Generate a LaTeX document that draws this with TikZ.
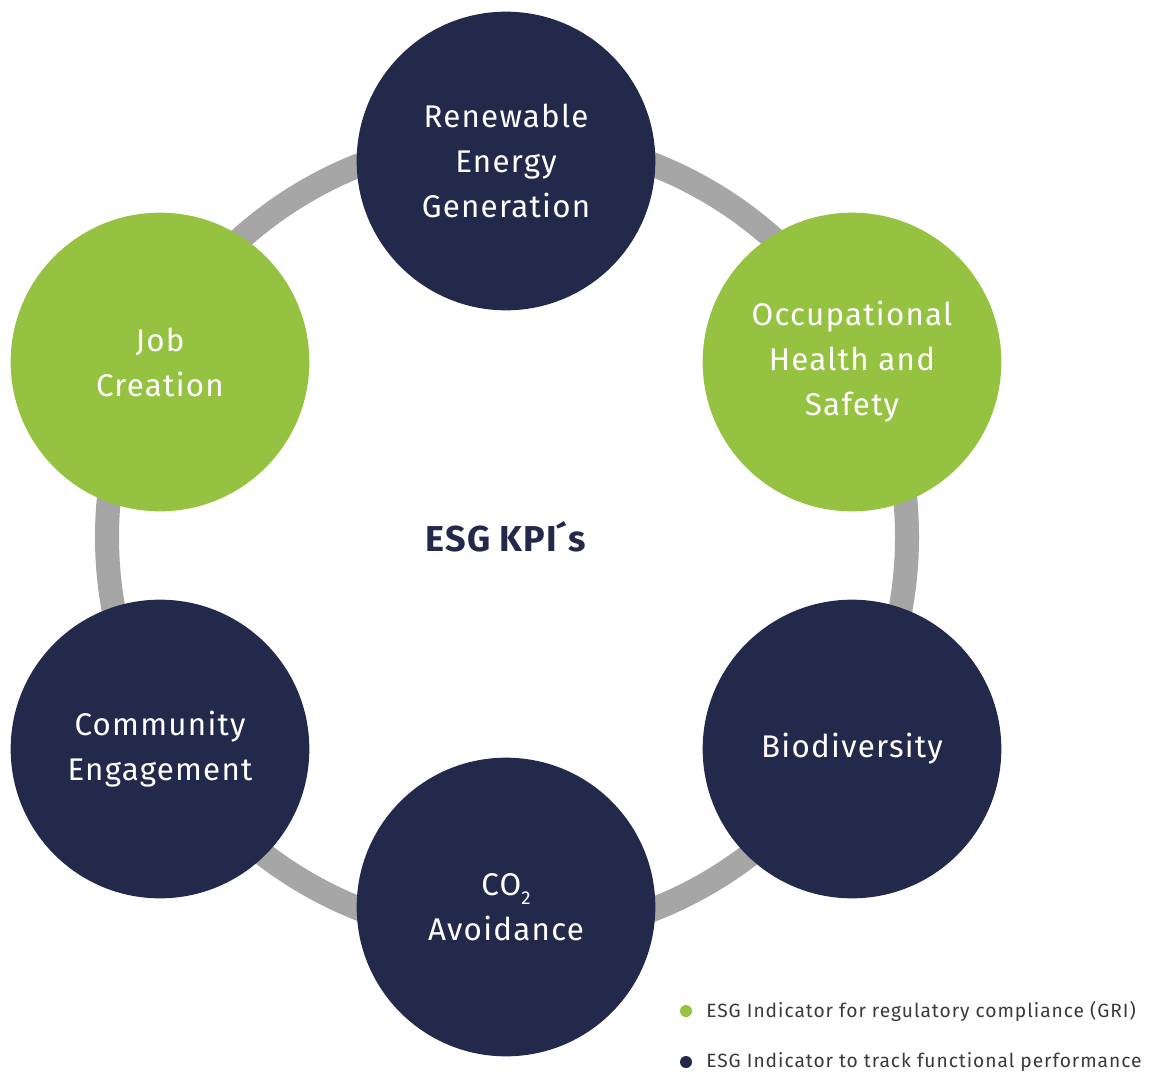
\documentclass[tikz,border=0pt]{standalone}
\usepackage{fontspec}
\setmainfont{Fira Sans}[LetterSpace=4]
\newfontfamily\legendfont{Fira Sans}[LetterSpace=5]
\newfontfamily\titlefont{Fira Sans}[LetterSpace=3]
\definecolor{navy}{HTML}{23294B}
\definecolor{leaf}{HTML}{96C242}
\definecolor{ringgray}{HTML}{A6A6A6}
\definecolor{legendtext}{HTML}{3A3A3A}
\begin{document}
\begin{tikzpicture}[x=0.75pt,y=-0.75pt,
  kpi/.style={circle,minimum size=224pt,inner sep=0pt,text=white,align=center,
    font={\fontsize{23.5}{33.75}\selectfont}},
  navykpi/.style={kpi,fill=navy},
  greenkpi/.style={kpi,fill=leaf},
  dot/.style={circle,minimum size=9pt,inner sep=0pt},
  legendlabel/.style={anchor=west,inner sep=0pt,text=legendtext,
    font={\legendfont\fontsize{14.4}{17}\selectfont}}]
  \useasboundingbox (0,0) rectangle (1162,1074);
  \fill[white] (0,0) rectangle (1162,1074);

  % connecting ring behind the indicators
  \draw[ringgray,line width=18pt] (507,537) circle[radius=300pt];

  % indicators
  \node[navykpi]  (renew) at (506,161) {Renewable\\Energy\\Generation};
  \node[greenkpi] (ohs)   at (852,362) {Occupational\\Health and\\Safety};
  \node[navykpi]  (bio)   at (852,749) {Biodiversity};
  \node[navykpi]  (co2)   at (506,907) {CO\raisebox{-7pt}{\fontsize{14}{14}\selectfont 2}\\Avoidance};
  \node[navykpi]  (comm)  at (160,749) {Community\\Engagement};
  \node[greenkpi] (job)   at (160,362) {Job\\Creation};

  % centre title
  \node[text=navy,font={\titlefont\fontsize{27}{30}\bfseries\selectfont}] (title) at (506,537) {ESG KPI\kern-1.2pt´s};

  % legend
  \node[dot,fill=leaf] (dotg) at (686,1011) {};
  \node[legendlabel] (legg) at (706,1011) {ESG Indicator for regulatory compliance (GRI)};
  \node[dot,fill=navy] (dotn) at (686,1062) {};
  \node[legendlabel] (legn) at (706,1062) {ESG Indicator to track functional performance};
\end{tikzpicture}
\end{document}
